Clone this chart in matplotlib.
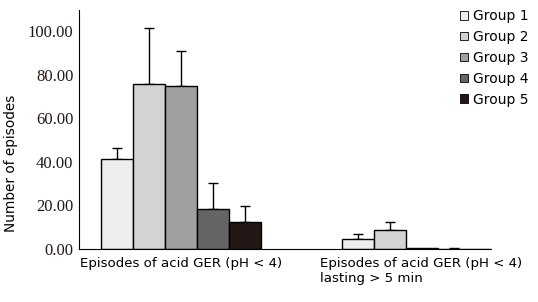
import matplotlib
matplotlib.use("Agg")
import matplotlib.pyplot as plt
import numpy as np

# data
categories = ["Episodes of acid GER (pH < 4)",
              "Episodes of acid GER (pH < 4)\nlasting > 5 min"]
groups = ["Group 1", "Group 2", "Group 3", "Group 4", "Group 5"]
means = [[41.1, 4.4],
         [75.5, 8.7],
         [74.6, 0.5],
         [18.2, 0.1],
         [12.4, 0.0]]
errs = [[5.1, 2.3],
        [25.9, 3.7],
        [16.1, 0.0],
        [11.9, 0.4],
        [7.5, 0.0]]
colors = ["#eceeed", "#d3d3d3", "#a0a09f", "#666566", "#231815"]

fig = plt.figure(figsize=(5.38, 3.02), dpi=100)
ax = fig.add_axes([79/538, 1 - 249/302, (491 - 79)/538, 239/302])

centers = np.array([0.0, 7.5])
width = 1.0
for i, g in enumerate(groups):
    x = centers + (i - 2) * width
    ax.bar(x, means[i], width=width, color=colors[i], edgecolor="black",
           linewidth=1.0, label=g, zorder=2)
    for xi, m, e in zip(x, means[i], errs[i]):
        if e > 0:
            ax.errorbar(xi, m, yerr=[[0], [e]], fmt="none", ecolor="black",
                        elinewidth=1.0, capsize=3.5, capthick=1.0, zorder=1)

ax.set_xlim(-3.2, 9.67)
ax.set_ylim(0, 109.6)
ax.set_yticks([0, 20, 40, 60, 80, 100])
ax.set_yticklabels(["%.2f" % v for v in [0, 20, 40, 60, 80, 100]],
                   family="Liberation Serif", fontsize=12, color="#231815")
ax.tick_params(axis="y", length=0, pad=4)
ax.set_xticks(centers)
ax.set_xticklabels(categories, fontsize=9.6, multialignment="left",
                   family="DejaVu Sans")
ax.tick_params(axis="x", length=0, pad=6)
ax.spines["top"].set_visible(False)
ax.spines["right"].set_visible(False)
ax.set_ylabel("Number of episodes", fontsize=9.8)
ax.yaxis.set_label_coords(-0.148, 0.358)

leg = ax.legend(loc="upper left", bbox_to_anchor=(451/538, 1.0),
                bbox_transform=fig.transFigure, frameon=False, fontsize=10,
                handlelength=0.6, handleheight=0.6, handletextpad=0.35,
                labelspacing=0.5, borderaxespad=0.25)
for h in leg.legend_handles:
    h.set_linewidth(0.6)

fig.savefig("out.png", dpi=100)
